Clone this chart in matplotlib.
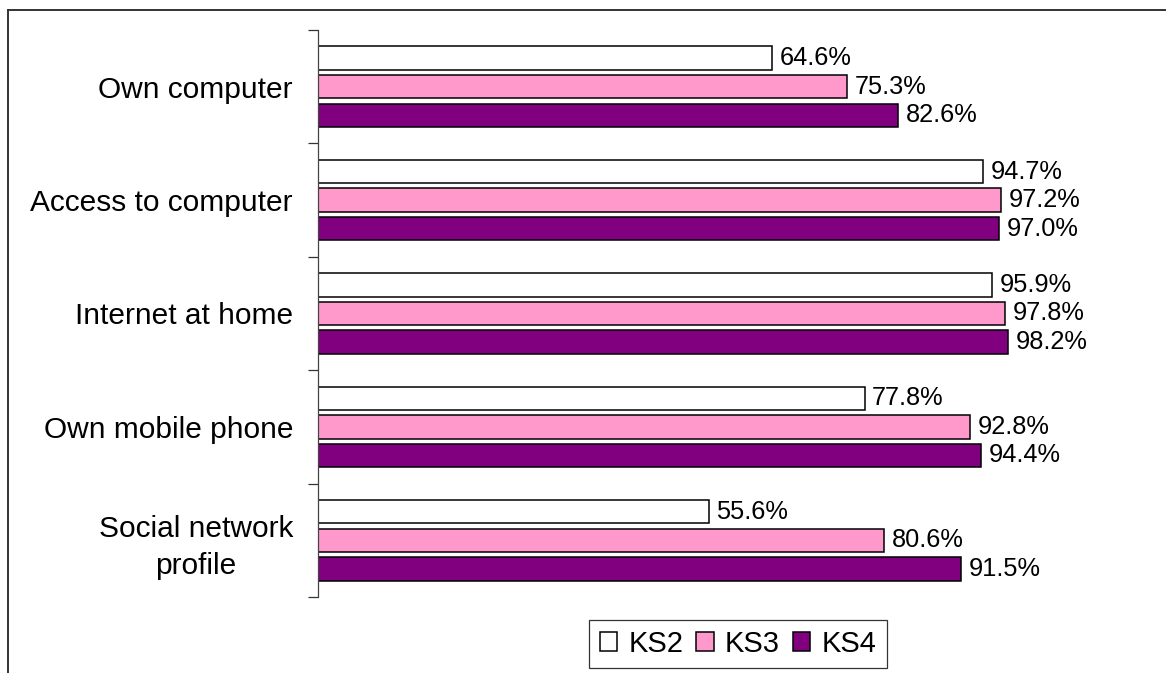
import matplotlib
matplotlib.use("Agg")
import matplotlib.pyplot as plt
import numpy as np
from matplotlib.lines import Line2D

categories = ["Own computer", "Access to computer", "Internet at home",
              "Own mobile phone", "Social network\nprofile"]
series_names = ["KS2", "KS3", "KS4"]
ks2 = [64.6, 94.7, 95.9, 77.8, 55.6]
ks3 = [75.3, 97.2, 97.8, 92.8, 80.6]
ks4 = [82.6, 97.0, 98.2, 94.4, 91.5]
colors = ["#FFFFFF", "#FF99CC", "#800080"]

plt.rcParams['font.family'] = ['Liberation Sans', 'DejaVu Sans']

W, H = 1166, 673
fig = plt.figure(figsize=(W / 100, H / 100), dpi=100)
ax = fig.add_axes([318 / W, 1 - 597 / H, 702.5 / W, (597 - 30) / H])

y = np.arange(len(categories))
pitch = 0.252
height = 0.205
for i, (vals, col, name) in enumerate(zip([ks2, ks3, ks4], colors, series_names)):
    pos = y + (i - 1) * pitch
    bars = ax.barh(pos, vals, height=height, color=col, edgecolor="black",
                   linewidth=1.1, label=name)
    for b, v in zip(bars, vals):
        ax.annotate(f"{v:.1f}%", xy=(v, b.get_y() + b.get_height() / 2),
                    xytext=(5.5, 0), textcoords="offset points",
                    ha="left", va="center", fontsize=18.3, color="black")

ax.set_xlim(0, 100)
ax.set_ylim(len(categories) - 0.5, -0.5)
ax.set_xticks([])
ax.set_yticks(np.arange(len(categories) + 1) - 0.5)
ax.set_yticklabels([])
ax.set_yticks(y, minor=True)
ax.set_yticklabels(categories, minor=True, fontsize=21.5)
ax.tick_params(axis="y", which="major", length=7.5, width=0.9, color="#333333", direction="out")
ax.tick_params(axis="y", which="minor", length=0, pad=18)
for lbl in ax.get_yticklabels(minor=True):
    lbl.set_horizontalalignment("right")
    lbl.set_multialignment("center")
    lbl.set_linespacing(1.4)
for s in ["top", "right", "bottom"]:
    ax.spines[s].set_visible(False)
ax.spines["left"].set_color("#444444")
ax.spines["left"].set_linewidth(0.9)

leg = fig.legend(loc="center", bbox_to_anchor=(738 / W, 1 - 644 / H), ncol=3,
                 fontsize=21, frameon=True, fancybox=False, edgecolor="black",
                 handlelength=0.6, handleheight=0.6, handletextpad=0.38,
                 columnspacing=0.45, borderpad=0.35)
leg.get_frame().set_linewidth(0.9)

# outer chart border (cropped at right and bottom)
fig.add_artist(Line2D([8 / W, 1.01], [1 - 10 / H, 1 - 10 / H], transform=fig.transFigure,
                      color="#333333", linewidth=1.4))
fig.add_artist(Line2D([8 / W, 8 / W], [1 - 10 / H, -0.01], transform=fig.transFigure,
                      color="#333333", linewidth=1.4))

fig.savefig("out.png", dpi=100, facecolor="white")
